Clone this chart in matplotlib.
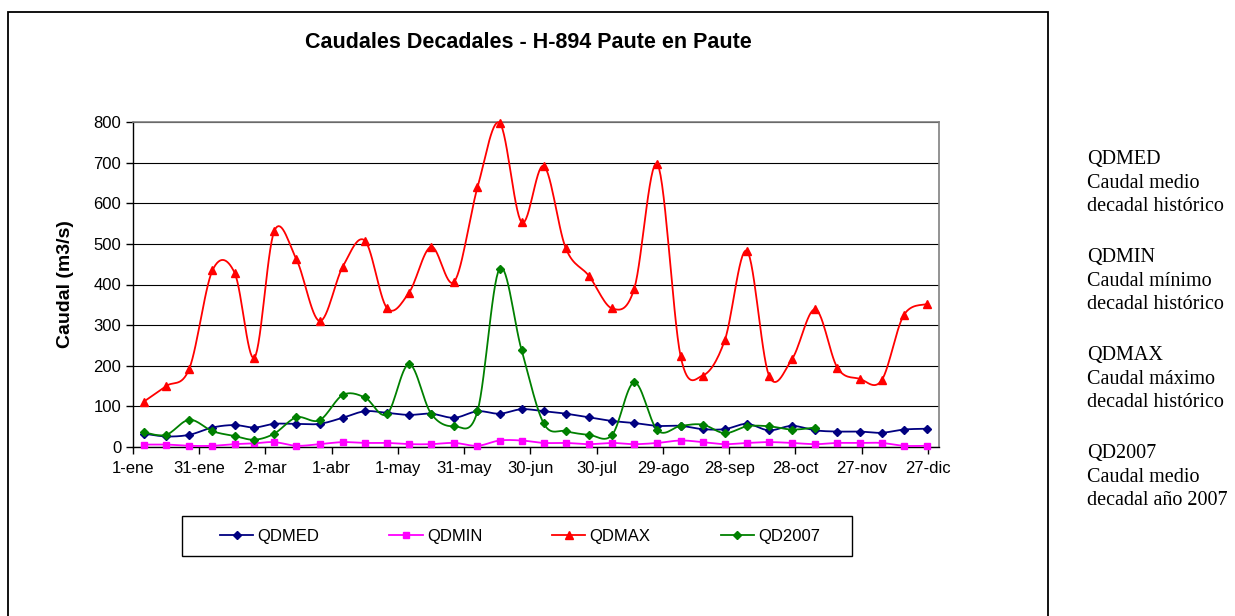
import numpy as np
import matplotlib
matplotlib.use("Agg")
import matplotlib.pyplot as plt
from matplotlib.patches import Rectangle

# ---------- datos ----------
dias_mes = [31, 28, 31, 30, 31, 30, 31, 31, 30, 31, 30, 31]
etiquetas_x = ["1-ene", "31-ene", "2-mar", "1-abr", "1-may", "31-may", "30-jun",
               "30-jul", "29-ago", "28-sep", "28-oct", "27-nov", "27-dic"]

qdmed = [33, 26, 30, 48, 54, 48, 57, 57, 57, 72, 88, 84, 79, 82, 72, 88, 82, 93,
         88, 82, 73, 64, 59, 52, 52, 44, 44, 57, 41, 52, 41, 38, 38, 35, 43, 45]
qdmin = [6, 6, 3, 3, 7, 9, 12, 3, 7, 12, 10, 10, 7, 7, 10, 3, 16, 16,
         10, 10, 7, 10, 7, 10, 16, 12, 7, 10, 12, 10, 7, 10, 10, 10, 3, 3]
qdmax = [112, 150, 193, 435, 429, 220, 532, 462, 310, 444, 508, 342, 380, 493, 407, 639, 798, 553,
         692, 489, 421, 341, 390, 696, 223, 176, 263, 483, 176, 217, 339, 195, 168, 164, 324, 352]
qd2007 = [36, 30, 67, 39, 27, 18, 33, 73, 66, 128, 122, 81, 204, 82, 51, 88, 439, 238,
          58, 39, 30, 30, 159, 41, 52, 55, 34, 51, 51, 43, 48]

# centro de cada decada (dias desde el 1-ene)
inicio = np.concatenate([[0], np.cumsum(dias_mes)[:-1]])
x_dec = []
for ini, nd in zip(inicio, dias_mes):
    x_dec += [ini + 5, ini + 15, ini + (20 + nd) / 2]
x_dec = np.array(x_dec)


def suavizar(x, y, n=16):
    # curva suavizada tipo Excel (Bezier / Catmull-Rom)
    P = np.column_stack([x, y]).astype(float)
    Q = np.vstack([P[0], P, P[-1]])
    t = np.linspace(0, 1, n)
    pts = [P[:1]]
    for i in range(len(P) - 1):
        p0, p3 = P[i], P[i + 1]
        c1 = p0 + (Q[i + 2] - Q[i]) / 6
        c2 = p3 - (Q[i + 3] - Q[i + 1]) / 6
        tt = t[1:, None]
        seg = ((1 - tt) ** 3 * p0 + 3 * (1 - tt) ** 2 * tt * c1
               + 3 * (1 - tt) * tt ** 2 * c2 + tt ** 3 * p3)
        pts.append(seg)
    pts = np.vstack(pts)
    marcas = list(range(0, len(pts), n - 1))
    return pts[:, 0], pts[:, 1], marcas


plt.rcParams["font.family"] = ["Liberation Sans", "DejaVu Sans"]
fig = plt.figure(figsize=(12.35, 6.16), dpi=100)

# marco exterior del grafico
fig.patches.append(Rectangle((8 / 1235, -0.02), 1040 / 1235, 1.02 - 12 / 616,
                             transform=fig.transFigure, fill=False,
                             edgecolor="black", linewidth=1.3))

ax = fig.add_axes([133 / 1235, 1 - 447 / 616, 806 / 1235, 325 / 616])

series = [
    ("QDMED", qdmed, "#000080", "D", 4.0),
    ("QDMIN", qdmin, "#FF00FF", "s", 4.2),
    ("QDMAX", qdmax, "#FF0000", "^", 5.5),
    ("QD2007", qd2007, "#008000", "D", 4.0),
]
for nombre, vals, color, mk, ms in series:
    xs, ys, marcas = suavizar(x_dec[:len(vals)], vals)
    ax.plot(xs, ys, color=color, lw=1.3, marker=mk, markersize=ms,
            markevery=marcas, label=nombre, clip_on=False, zorder=3)

ax.set_xlim(0, 365)
ax.set_ylim(0, 800)
ax.set_yticks(np.arange(0, 801, 100))
ax.set_xticks(np.arange(0, 361, 30))
ax.set_xticklabels(etiquetas_x)
ax.tick_params(axis="both", direction="out", length=5, width=1, labelsize=12,
               colors="black")
ax.tick_params(axis="x", pad=5)
ax.yaxis.grid(True, color="black", linewidth=0.8)
ax.set_axisbelow(True)
for lado in ("top", "right"):
    ax.spines[lado].set_color("#808080")
    ax.spines[lado].set_linewidth(1.2)
for lado in ("left", "bottom"):
    ax.spines[lado].set_color("black")
    ax.spines[lado].set_linewidth(1.0)

fig.text(528 / 1235, 1 - 43 / 616, "Caudales Decadales - H-894 Paute en Paute",
         ha="center", va="center", fontsize=15.5, fontweight="bold")
fig.text(65 / 1235, 1 - 284 / 616, "Caudal (m3/s)", rotation=90,
         ha="center", va="center", fontsize=14, fontweight="bold")

# leyenda con marco dibujado aparte
fig.patches.append(Rectangle((182 / 1235, 1 - 556 / 616), 670 / 1235, 40 / 616,
                             transform=fig.transFigure, fill=False,
                             edgecolor="black", linewidth=1.0))
leg = fig.legend(loc="center", bbox_to_anchor=(520 / 1235, 1 - 536 / 616),
                 ncol=4, fontsize=12, frameon=False,
                 handlelength=2.0, handletextpad=0.25, columnspacing=4.2,
                 borderpad=0, borderaxespad=0)

# notas a la derecha
notas = [
    "QDMED\nCaudal medio\ndecadal histórico",
    "QDMIN\nCaudal mínimo\ndecadal histórico",
    "QDMAX\nCaudal máximo\ndecadal histórico",
    "QD2007\nCaudal medio\ndecadal año 2007",
]
for i, nota in enumerate(notas):
    fig.text(1087 / 1235, 1 - (150 + i * 98) / 616, nota, ha="left", va="top",
             fontsize=14.5, family="Liberation Serif", linespacing=1.33)

fig.savefig("out.png", dpi=100)
